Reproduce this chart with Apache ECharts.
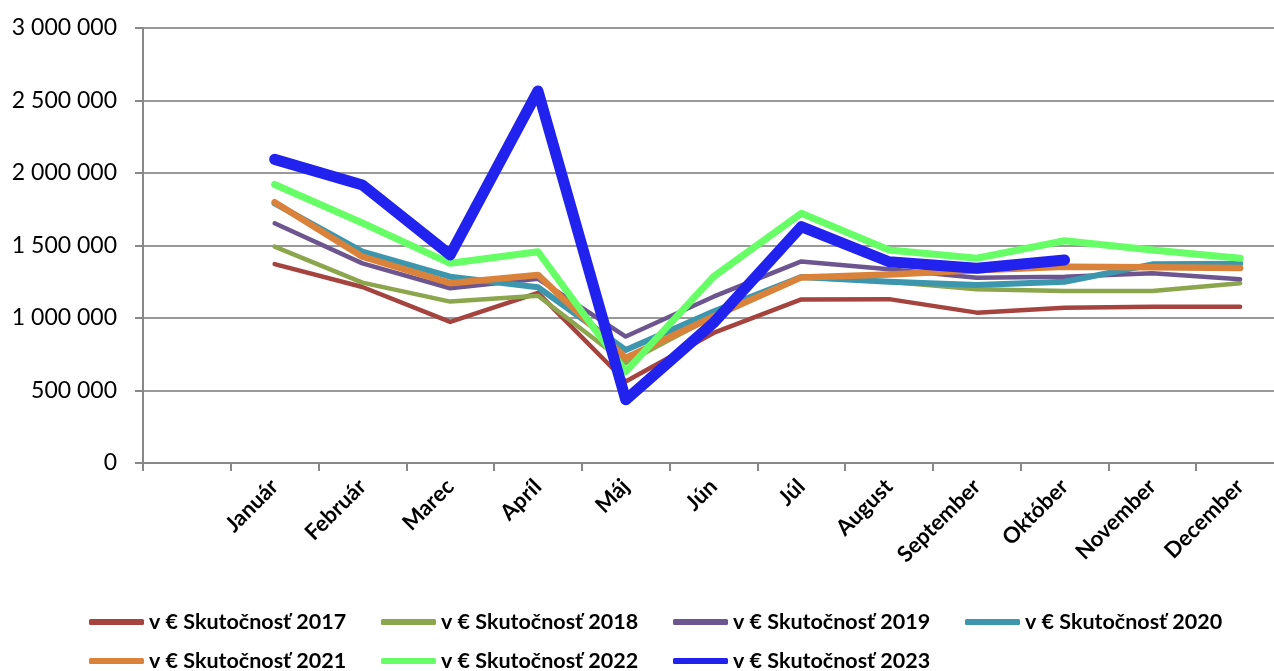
<!DOCTYPE html>
<html>
<head>
<meta charset="utf-8">
<script src="https://cdn.jsdelivr.net/npm/echarts@6/dist/echarts.min.js"></script>
<style>
html,body{margin:0;padding:0;background:#fff;}
#chart{width:1274px;height:671px;}
</style>
</head>
<body>
<div id="chart"></div>
<script>
const categories = ['', 'Január', 'Február', 'Marec', 'Apríl', 'Máj', 'Jún', 'Júl', 'August', 'September', 'Október', 'November', 'December'];
const yTicks = [0, 500000, 1000000, 1500000, 2000000, 2500000, 3000000];

const s2017 = [null, 1372000, 1214000, 973000, 1173000, 562000, 897000, 1128000, 1130000, 1037000, 1070000, 1078000, 1078000];
const s2018 = [null, 1492000, 1244000, 1113000, 1154000, 690000, 1010000, 1280000, 1250000, 1198000, 1187000, 1187000, 1240000];
const s2019 = [null, 1653000, 1377000, 1205000, 1270000, 872000, 1147000, 1390000, 1336000, 1278000, 1285000, 1308000, 1267000];
const s2020 = [null, 1790000, 1457000, 1285000, 1212000, 780000, 1044000, 1283000, 1250000, 1228000, 1250000, 1370000, 1375000];
const s2021 = [null, 1798000, 1423000, 1240000, 1297000, 725000, 1010000, 1280000, 1300000, 1330000, 1354000, 1350000, 1345000];
const s2022 = [null, 1921000, 1655000, 1377000, 1457000, 631000, 1285000, 1722000, 1469000, 1412000, 1533000, 1469000, 1412000];
const s2023 = [null, 2094000, 1917000, 1435000, 2566000, 436000, 966000, 1630000, 1388000, 1343000, 1400000, null, null];

const seriesNames = ['v € Skutočnosť 2017', 'v € Skutočnosť 2018', 'v € Skutočnosť 2019', 'v € Skutočnosť 2020', 'v € Skutočnosť 2021', 'v € Skutočnosť 2022', 'v € Skutočnosť 2023'];
const seriesData = [s2017, s2018, s2019, s2020, s2021, s2022, s2023];
const colors = ['#A5433F', '#8BA64C', '#6D5590', '#3C97AE', '#DA823A', '#66FF66', '#2222EE'];
const widths = [4.5, 4.5, 4.5, 6, 6.5, 7, 11];

const chart = echarts.init(document.getElementById('chart'), null, {renderer: 'canvas'});

function fmt(v) {
  return String(v).replace(/\B(?=(\d{3})+(?!\d))/g, ' ');
}

const legendText = {fontFamily: 'Lato', fontWeight: 'bold', fontSize: 21.5, color: '#000', width: 198, lineHeight: 24};

const option = {
  animation: false,
  backgroundColor: '#fff',
  grid: {left: 143, top: 28, width: 1141, bottom: 208, containLabel: false, outerBoundsMode: 'none'},
  legend: [
    {
      data: seriesNames.slice(0, 4),
      left: 89, top: 610, orient: 'horizontal', padding: 0,
      itemWidth: 55, itemHeight: 6, itemGap: 34,
      icon: 'roundRect',
      textStyle: legendText
    },
    {
      data: seriesNames.slice(4),
      left: 89, top: 649, orient: 'horizontal', padding: 0,
      itemWidth: 55, itemHeight: 6, itemGap: 34,
      icon: 'roundRect',
      textStyle: legendText
    }
  ],
  xAxis: {
    type: 'category',
    data: categories,
    boundaryGap: true,
    axisLine: {show: true, lineStyle: {color: '#888', width: 2}},
    axisTick: {show: true, length: 8, alignWithLabel: false, interval: 0, lineStyle: {color: '#888', width: 2}},
    axisLabel: {
      interval: 0, rotate: 45, margin: 20,
      fontFamily: 'Lato', fontWeight: 'bold', fontSize: 22, color: '#000'
    },
    splitLine: {show: false}
  },
  yAxis: {
    type: 'value',
    min: yTicks[0], max: yTicks[yTicks.length - 1], interval: yTicks[1] - yTicks[0],
    axisLine: {show: true, lineStyle: {color: '#888', width: 2}},
    axisTick: {show: true, length: 8, lineStyle: {color: '#888', width: 2}},
    axisLabel: {
      margin: 26, fontFamily: 'Lato', fontSize: 23, color: '#000',
      formatter: fmt
    },
    splitLine: {show: true, lineStyle: {color: '#999', width: 2}}
  },
  series: seriesNames.map((name, i) => ({
    name: name,
    type: 'line',
    data: seriesData[i],
    symbol: 'none',
    showSymbol: false,
    smooth: false,
    connectNulls: false,
    color: colors[i],
    lineStyle: {color: colors[i], width: widths[i], cap: 'round', join: 'round'},
    itemStyle: {color: colors[i]},
    z: 2 + i
  }))
};

chart.setOption(option);
</script>
</body>
</html>
